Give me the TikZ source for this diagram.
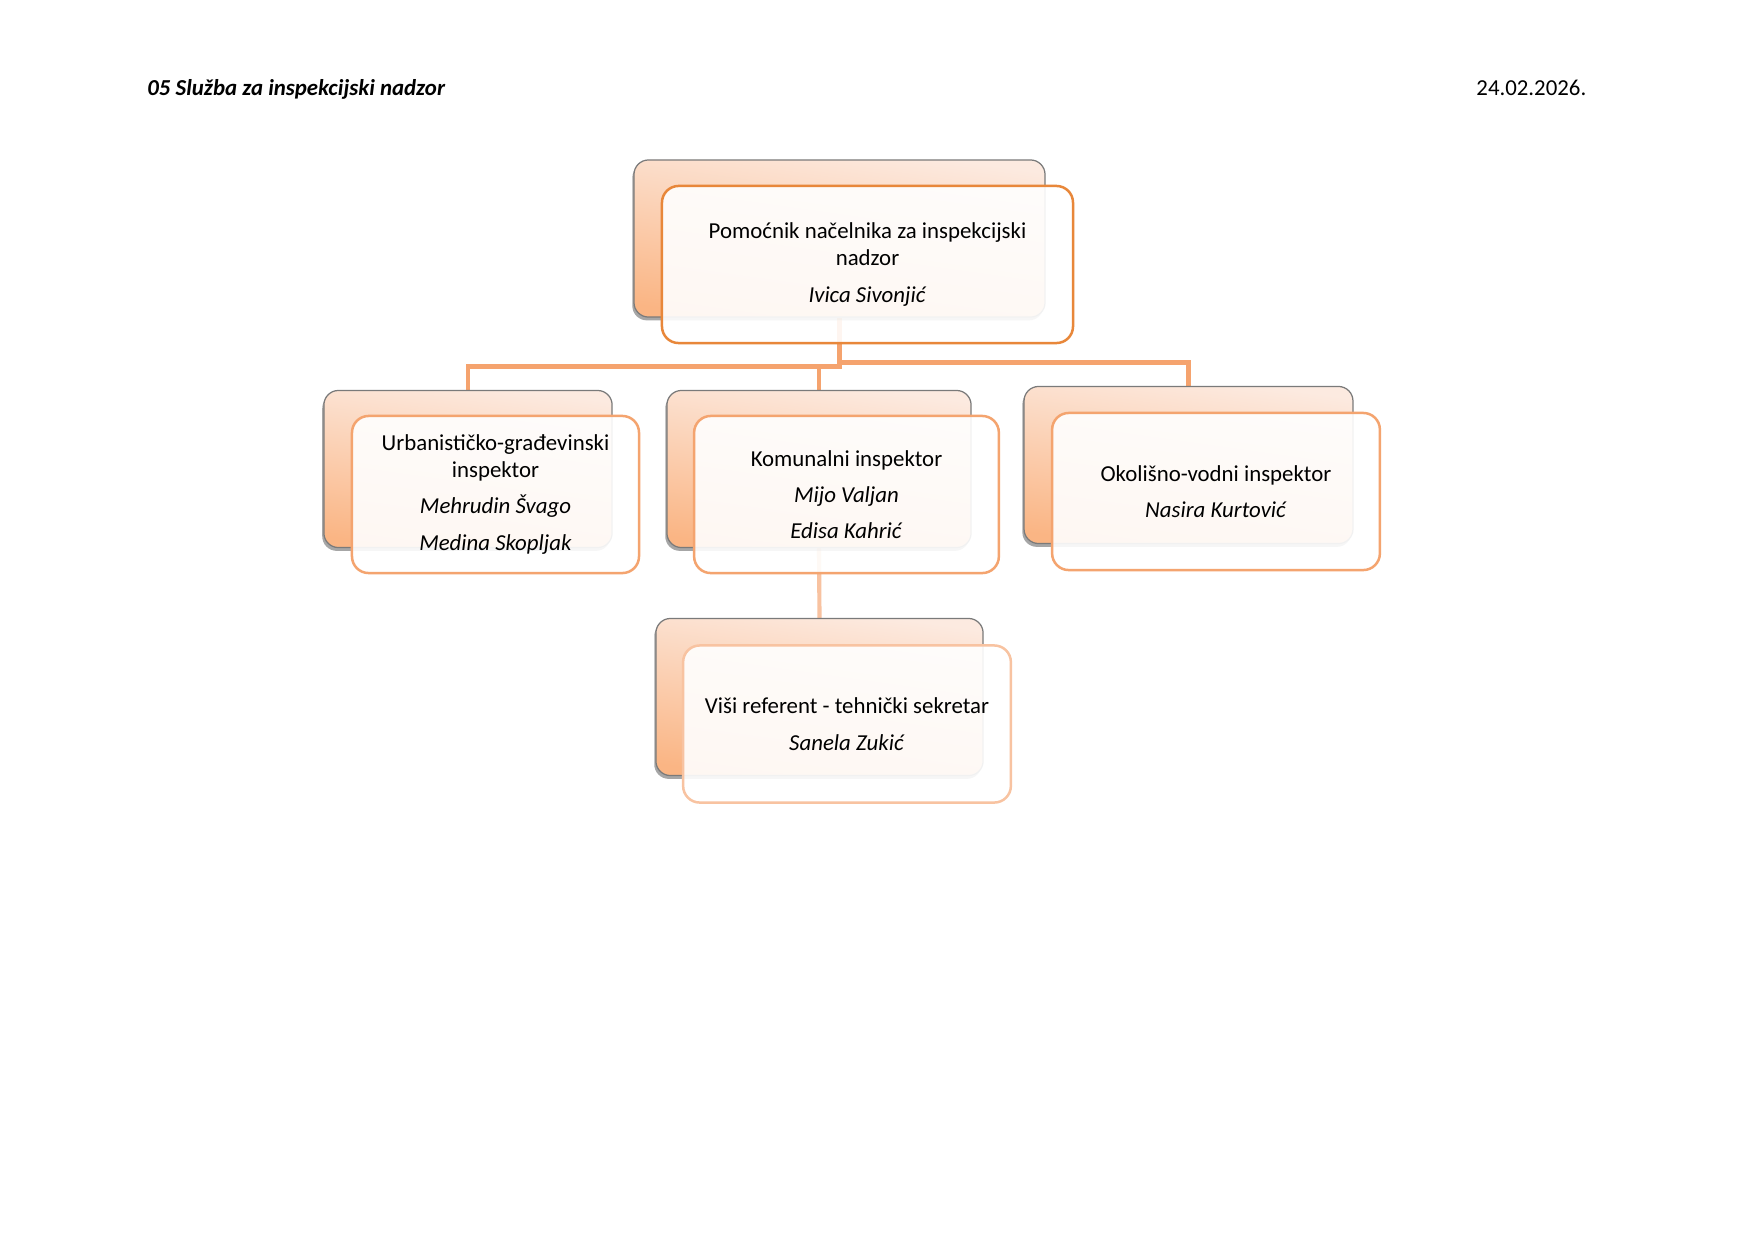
\documentclass[tikz,border=0pt]{standalone}
\usepackage{fontspec}
\setmainfont{Carlito}
\usepackage{xcolor}
\usepackage{tikz}
\usetikzlibrary{shadows}
\usetikzlibrary{backgrounds}

\definecolor{svijetla}{HTML}{FCEAE0}
\definecolor{tamna}{HTML}{FAB584}
\definecolor{sivi}{HTML}{7A7A7A}
\definecolor{rub1}{HTML}{E8873A}
\definecolor{rub2}{HTML}{F4A46F}
\definecolor{rub3}{HTML}{F8C3A1}
\definecolor{linija}{HTML}{F5A36E}
\definecolor{linija2}{HTML}{F8C2A0}

\begin{document}
\begin{tikzpicture}[
        x=0.16933mm, y=-0.16933mm,
        font=\fontsize{11}{13}\selectfont,
        pozadina/.style={rectangle, rounded corners=7pt, draw=sivi, line width=0.6pt,
            top color=svijetla, bottom color=tamna, shading angle=-8,
            minimum height=26.6mm, inner sep=0pt,
            drop shadow={shadow xshift=-0.8pt, shadow yshift=-1.6pt, opacity=0.35, fill=black}},
        kartica/.style={rectangle, rounded corners=8pt, draw=#1, line width=1.2pt,
            fill=white, fill opacity=0.9, text opacity=1, align=center,
            minimum height=26.6mm, inner sep=0pt},
        veza/.style={draw=linija, line width=2.3pt},
        veza2/.style={draw=linija2, line width=2pt}
    ]
    \useasboundingbox (0,0) rectangle (1754,1241);

    % -- Zaglavlje --
    \node[anchor=base west, inner sep=0pt, font=\fontsize{11}{13}\selectfont\bfseries\itshape] (naslov) at (147,95) {05 Služba za inspekcijski nadzor};
    \node[anchor=base west, inner sep=0pt] (datum) at (1476,95) {24.02.2026.};

    % -- Pozadinski okviri --
    \node[pozadina, minimum width=69.6mm] (pomB) at (839.5,238.5) {};
    \node[pozadina, minimum width=48.8mm] (urbB) at (468,469) {};
    \node[pozadina, minimum width=51.5mm] (komB) at (819,469) {};
    \node[pozadina, minimum width=55.7mm] (okoB) at (1188.5,465) {};
    \node[pozadina, minimum width=55.4mm] (visB) at (819.5,697) {};

    % -- Kartice s tekstom --
    \node[kartica=rub1, minimum width=69.6mm] (pom) at (867.5,264.5)
        {Pomoćnik načelnika za inspekcijski\\ nadzor\\[4.5pt] \textit{Ivica Sivonjić}};
    \node[kartica=rub2, minimum width=48.6mm] (urb) at (495.5,494.5)
        {Urbanističko-građevinski\\ inspektor\\[4.5pt] \textit{Mehrudin Švago}\\[4.5pt] \textit{Medina Skopljak}};
    \node[kartica=rub2, minimum width=51.6mm] (kom) at (846.5,494.5)
        {Komunalni inspektor\\[4.5pt] \textit{Mijo Valjan}\\[4.5pt] \textit{Edisa Kahrić}};
    \node[kartica=rub2, minimum width=55.5mm] (oko) at (1216,491.5)
        {Okolišno-vodni inspektor\\[4.5pt] \textit{Nasira Kurtović}};
    \node[kartica=rub3, minimum width=55.5mm] (vis) at (847,724)
        {Viši referent - tehnički sekretar\\[4.5pt] \textit{Sanela Zukić}};

    % -- Veze --
    \begin{pgfonlayer}{background}
    \fill[white] (0,0) rectangle (1754,1241);
    % pom -> urb :
    \draw[veza] (pomB.south) -- ++(0,49) -| (urbB.north);
    % pom -> oko :
    \draw[veza] (pomB.south) -- ++(0,45) -| (okoB.north);
    % pom -> kom :
    \draw[veza] (komB.north) -- ++(0,-25);
    % kom -> vis :
    \draw[veza2] (komB.south) -- (visB.north);
    \end{pgfonlayer}

\end{tikzpicture}
\end{document}
